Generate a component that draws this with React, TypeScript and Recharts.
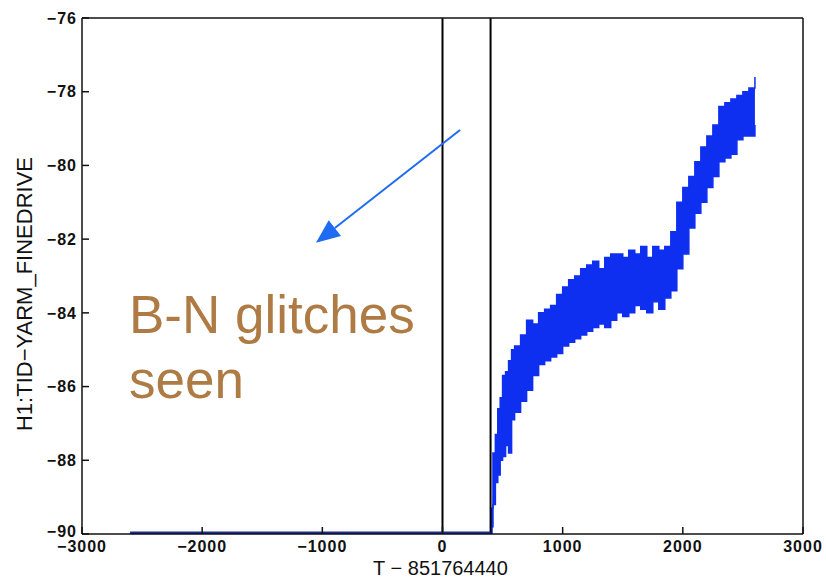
import React from "react";
import {
  ComposedChart,
  Area,
  Line,
  XAxis,
  YAxis,
  ReferenceLine,
  Label,
} from "recharts";

// ---- data ----
const xTicks = [-3000, -2000, -1000, 0, 1000, 2000, 3000];
const yTicks = [-90, -88, -86, -84, -82, -80, -78, -76];

const flatT = [-2600, 400];
const flatV = [-90, -90];

const bandT = [
  400, 410, 420, 440, 460, 480, 500, 525, 550, 575, 600, 650, 700, 750, 800,
  850, 900, 950, 1000, 1050, 1100, 1150, 1200, 1250, 1300, 1350, 1400, 1450,
  1500, 1550, 1600, 1650, 1700, 1750, 1800, 1850, 1900, 1950, 2000, 2050, 2100,
  2150, 2200, 2250, 2300, 2350, 2400, 2450, 2500, 2550, 2600,
];
const bandUpper = [
  -90, -89.3, -87.8, -87.3, -86.6, -86.3, -85.7, -85.6, -85.3, -85.0, -84.9,
  -84.6, -84.2, -84.3, -84.0, -83.9, -83.8, -83.5, -83.3, -83.1, -83.0, -82.8,
  -82.7, -82.6, -82.8, -82.5, -82.4, -82.4, -82.5, -82.3, -82.4, -82.2, -82.5,
  -82.2, -82.3, -82.2, -81.8, -81.0, -80.6, -80.3, -79.9, -79.5, -79.2, -78.9,
  -78.4, -78.3, -78.2, -78.1, -78.0, -77.9, -77.6,
];
const bandLower = [
  -90, -89.8, -89.2, -88.6, -88.4, -88.0, -87.9, -87.6, -87.8, -86.9, -86.7,
  -86.4, -86.1, -85.7, -85.4, -85.3, -85.2, -85.1, -84.9, -84.8, -84.7, -84.6,
  -84.5, -84.4, -84.3, -84.4, -84.2, -84.0, -84.1, -84.0, -83.8, -83.9, -84.0,
  -83.7, -83.9, -83.6, -83.4, -82.8, -82.4, -81.7, -81.3, -81.0, -80.6, -80.3,
  -79.9, -79.8, -79.7, -79.3, -79.2, -79.2, -78.9,
];

const markerLines = [0, 400];
const arrowFrom = { x: 146, y: -79.04 };
const arrowTo = { x: -1053, y: -82.1 };

const xLabel = "T − 851764440";
const yLabel = "H1:TID−YARM_FINEDRIVE";
const noteLines = ["B-N glitches", "seen"];

const bandData = bandT.map((t, i) => ({ t, range: [bandLower[i], bandUpper[i]] }));
const flatData = flatT.map((t, i) => ({ t, v: flatV[i] }));

const W = 826;
const H = 579;
const FONT = "'Liberation Sans', Arial, Helvetica, sans-serif";
const BAND = "#0f2ff0";
const ARROW = "#1f6cf2";
const AXIS = "#111";

const fmt = (v: number) => String(v).replace("-", "−");

const tickStyle = {
  fontFamily: FONT,
  fontSize: 16,
  fontWeight: 700,
  fill: "#111",
  letterSpacing: 1,
};

const YTick = (props: any) => {
  const { x, y, payload } = props;
  const v = payload?.value;
  const shift = v === -90 ? -3 : 0;
  return (
    <text
      x={x}
      y={y + shift}
      dy="0.36em"
      textAnchor="end"
      style={tickStyle}
    >
      {fmt(v)}
    </text>
  );
};

const ArrowShape = (props: any) => {
  const { x1, y1, x2, y2 } = props;
  if ([x1, y1, x2, y2].some((v) => typeof v !== "number")) return null;
  const dx = x2 - x1;
  const dy = y2 - y1;
  const len = Math.sqrt(dx * dx + dy * dy);
  const ux = dx / len;
  const uy = dy / len;
  const headLen = 24;
  const headW = 10;
  const bx = x2 - ux * headLen;
  const by = y2 - uy * headLen;
  const px = -uy;
  const py = ux;
  return (
    <g>
      <line x1={x1} y1={y1} x2={bx} y2={by} stroke={ARROW} strokeWidth={2} />
      <polygon
        points={`${x2},${y2} ${bx + px * headW},${by + py * headW} ${bx - px * headW},${by - py * headW}`}
        fill={ARROW}
      />
    </g>
  );
};

export default function App() {
  return (
    <div style={{ position: "absolute", left: 0, top: 0, width: W, height: H, background: "#fff" }}>
      <ComposedChart
        width={W}
        height={H}
        margin={{ top: 17, right: 22, bottom: 0, left: 0 }}
      >
        <XAxis
          xAxisId="b"
          dataKey="t"
          type="number"
          domain={[-3000, 3000]}
          ticks={xTicks}
          allowDataOverflow
          height={45}
          tickSize={-7}
          tickMargin={14}
          tickFormatter={fmt}
          tick={tickStyle}
          axisLine={{ stroke: AXIS, strokeWidth: 1.5 }}
          tickLine={{ stroke: AXIS, strokeWidth: 1.5 }}
          interval={0}
        >
          <Label
            content={(p: any) => {
              const vb = p.viewBox || {};
              return (
                <text
                  x={vb.x + vb.width / 2 - 2}
                  y={574.5}
                  textAnchor="middle"
                  style={{ fontFamily: FONT, fontSize: 20, fill: "#111" }}
                >
                  {xLabel}
                </text>
              );
            }}
          />
        </XAxis>
        <XAxis
          xAxisId="top"
          orientation="top"
          dataKey="t"
          type="number"
          domain={[-3000, 3000]}
          ticks={xTicks}
          allowDataOverflow
          height={1}
          tickSize={-7}
          tick={false}
          axisLine={{ stroke: AXIS, strokeWidth: 1.5 }}
          tickLine={{ stroke: AXIS, strokeWidth: 1.5 }}
          interval={0}
        />
        <YAxis
          yAxisId="l"
          type="number"
          domain={[-90, -76]}
          ticks={yTicks}
          allowDataOverflow
          width={82}
          tickSize={-7}
          tickMargin={12}
          tick={<YTick />}
          axisLine={{ stroke: AXIS, strokeWidth: 1.5 }}
          tickLine={{ stroke: AXIS, strokeWidth: 1.5 }}
          interval={0}
        >
          <Label
            content={() => {
              const cx = 24;
              const cy = 294;
              return (
                <text
                  x={cx}
                  y={cy}
                  textAnchor="middle"
                  dominantBaseline="central"
                  transform={`rotate(-90 ${cx} ${cy})`}
                  style={{ fontFamily: FONT, fontSize: 22, fill: "#111" }}
                >
                  {yLabel}
                </text>
              );
            }}
          />
        </YAxis>
        <YAxis
          yAxisId="r"
          orientation="right"
          type="number"
          domain={[-90, -76]}
          ticks={yTicks}
          allowDataOverflow
          width={1}
          tickSize={-7}
          tick={false}
          axisLine={{ stroke: AXIS, strokeWidth: 1.5 }}
          tickLine={{ stroke: AXIS, strokeWidth: 1.5 }}
          interval={0}
        />

        {markerLines.map((x) => (
          <ReferenceLine
            key={x}
            xAxisId="b"
            yAxisId="l"
            x={x}
            stroke="#000"
            strokeWidth={2}
          />
        ))}

        <Line
          xAxisId="b"
          yAxisId="l"
          data={flatData}
          dataKey="v"
          stroke="#1c2a9a"
          strokeWidth={5}
          dot={false}
          isAnimationActive={false}
        />
        <Area
          xAxisId="b"
          yAxisId="l"
          data={bandData}
          dataKey="range"
          type="stepAfter"
          stroke={BAND}
          strokeWidth={1.5}
          fill={BAND}
          fillOpacity={1}
          isAnimationActive={false}
        />

        <ReferenceLine
          xAxisId="b"
          yAxisId="l"
          segment={[arrowFrom, arrowTo]}
          shape={ArrowShape}
          ifOverflow="visible"
        />
      </ComposedChart>
      <svg
        width={W}
        height={H}
        style={{ position: "absolute", left: 0, top: 0, pointerEvents: "none" }}
      >
        {noteLines.map((s, i) => (
          <text
            key={s}
            x={129}
            y={333 + i * 65}
            style={{ fontFamily: FONT, fontSize: 53, fill: "#ae7b44" }}
          >
            {s}
          </text>
        ))}
      </svg>
    </div>
  );
}
